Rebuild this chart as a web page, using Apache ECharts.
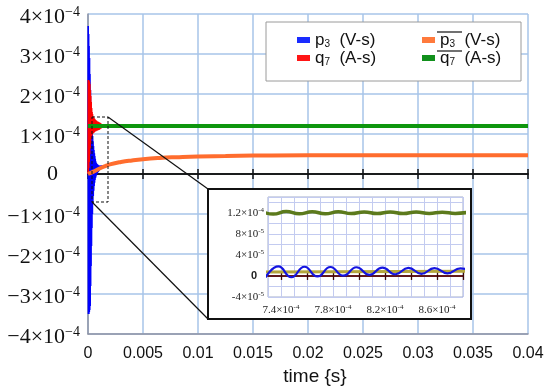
<!DOCTYPE html>
<html>
<head>
<meta charset="utf-8">
<script src="https://cdn.jsdelivr.net/npm/echarts@6.0.0/dist/echarts.min.js"></script>
<style>html,body{margin:0;padding:0;background:#fff;}#c{width:550px;height:391px;}</style>
</head>
<body>
<div id="c"></div>
<script>
// ---- main chart data: time in s, values in units of 1e-4 ----
const p3 = [[0,0],[0.00002,3.7],[0.00004,-3.5],[0.00006,3.5],[0.00008,-3.5],[0.0001,3.2],[0.00012,-3.45],[0.00014,2.9],[0.00016,-3.4],[0.00018,2.5],[0.0002,-3.3],[0.00022,2.1],[0.00024,-2.8],[0.00026,1.8],[0.00028,-2.3],[0.0003,1.55],[0.00032,-1.8],[0.00034,1.3],[0.00036,-1.35],[0.00038,1.1],[0.0004,-1.0],[0.00042,0.95],[0.00044,-0.75],[0.00046,0.82],[0.00048,-0.55],[0.0005,0.7],[0.00052,-0.42],[0.00054,0.6],[0.00056,-0.3],[0.00058,0.52],[0.0006,-0.22],[0.00062,0.45],[0.00064,-0.15],[0.00066,0.38],[0.00068,-0.1],[0.0007,0.32],[0.00072,-0.06],[0.00074,0.28],[0.00076,-0.03],[0.00078,0.26],[0.0008,0.0],[0.00082,0.25],[0.00084,0.02],[0.00086,0.24],[0.00088,0.04],[0.0009,0.23],[0.00092,0.05],[0.00094,0.22],[0.00096,0.07],[0.00098,0.22],[0.001,0.08],[0.00102,0.21],[0.00104,0.1],[0.00106,0.21],[0.00108,0.12],[0.0011,0.2],[0.00112,0.14],[0.00114,0.2],[0.00116,0.16],[0.0012,0.18],[0.0015,0.19],[0.002,0.24],[0.003,0.3],[0.005,0.37],[0.01,0.44],[0.02,0.47],[0.04,0.47]];
const q7 = [[0,0],[0.00002,2.35],[0.00004,0.05],[0.00006,2.35],[0.00008,0.15],[0.0001,2.33],[0.00012,0.3],[0.00014,2.3],[0.00016,0.5],[0.00018,2.25],[0.0002,0.65],[0.00022,2.1],[0.00024,0.78],[0.00026,1.95],[0.00028,0.88],[0.0003,1.8],[0.00032,0.93],[0.00034,1.65],[0.00036,0.97],[0.00038,1.55],[0.0004,1.0],[0.00042,1.5],[0.00044,1.01],[0.00046,1.45],[0.00048,1.02],[0.0005,1.42],[0.00052,1.03],[0.00054,1.4],[0.00056,1.04],[0.00058,1.39],[0.0006,1.05],[0.00062,1.37],[0.00064,1.06],[0.00066,1.36],[0.00068,1.07],[0.0007,1.35],[0.00072,1.07],[0.00074,1.34],[0.00076,1.08],[0.00078,1.33],[0.0008,1.08],[0.00082,1.32],[0.00084,1.09],[0.00086,1.31],[0.00088,1.09],[0.0009,1.31],[0.00092,1.1],[0.00094,1.3],[0.00096,1.1],[0.00098,1.3],[0.001,1.1],[0.00102,1.29],[0.00104,1.11],[0.00106,1.28],[0.00108,1.12],[0.0011,1.28],[0.00112,1.13],[0.00114,1.27],[0.00116,1.14],[0.00118,1.26],[0.0012,1.14],[0.00122,1.25],[0.00124,1.15],[0.00126,1.24],[0.00128,1.16],[0.0013,1.23],[0.00132,1.17],[0.00134,1.22],[0.00136,1.18],[0.0014,1.2],[0.04,1.2]];
const p3bar = [[0,0],[0.0005,0.06],[0.001,0.13],[0.0015,0.19],[0.002,0.24],[0.003,0.3],[0.004,0.34],[0.005,0.37],[0.0065,0.4],[0.008,0.42],[0.01,0.44],[0.0125,0.45],[0.015,0.46],[0.02,0.47],[0.025,0.47],[0.03,0.47],[0.04,0.47]];
const q7bar = [[0,1.2],[0.04,1.2]];
const mainXTicks = [0,0.005,0.01,0.015,0.02,0.025,0.03,0.035,0.04];
const mainYTicks = [-4,-3,-2,-1,0,1,2,3,4];

// ---- inset data: time in units of 1e-4 s, values in units of 1e-5 ----
const insetP3 = [[7.28,-0.3],[7.38,1.8],[7.48,-0.25],[7.58,1.75],[7.68,-0.1],[7.78,1.7],[7.88,0.05],[7.98,1.65],[8.08,0.2],[8.18,1.6],[8.28,0.3],[8.38,1.55],[8.48,0.4],[8.58,1.5],[8.68,0.5],[8.78,1.45],[8.88,0.55]];
const insetP3bar = [[7.28,0.75],[8.88,0.9]];
const insetQ7 = [[7.28,12.0],[7.34,11.75],[7.44,12.25],[7.54,11.8],[7.64,12.2],[7.74,11.8],[7.84,12.2],[7.94,11.85],[8.04,12.15],[8.14,11.85],[8.24,12.15],[8.34,11.85],[8.44,12.15],[8.54,11.88],[8.64,12.12],[8.74,11.88],[8.84,12.1]];
const insetXLabels = [7.4,7.8,8.2,8.6];
const insetXTicks = [7.4,7.6,7.8,8.0,8.2,8.4,8.6,8.8];
const insetYLabels = [-4,0,4,8,12];

const SERIF = '"Liberation Serif", "DejaVu Serif", serif';
const SANS = '"Liberation Sans", Arial, sans-serif';

function mainYFmt(v){
  const n = Math.round(v);
  if (n === 0) return '{z|0}';
  return '{m|' + (n < 0 ? '\u2212' : '') + Math.abs(n) + '\u00d710}{s|\u22124}';
}
function insetYFmt(v){
  const n = Math.round(v);
  if (n === 0) return '{z|0}';
  if (n === 12) return '{m|1.2\u00d710}{s|-4}';
  return '{m|' + (n < 0 ? '-' : '') + Math.abs(n) + '\u00d710}{s|-5}';
}
function insetXFmt(v){
  return '{m|' + v.toFixed(1) + '\u00d710}{s|-4}';
}

const chart = echarts.init(document.getElementById('c'), null, {renderer:'canvas'});
const gridBlue = '#a7c5e8';
const legendRich = {
  m:{fontFamily:SANS, fontSize:17, lineHeight:18, color:'#111', verticalAlign:'bottom'},
  s:{fontFamily:SANS, fontSize:10, lineHeight:12, color:'#111', verticalAlign:'bottom'}
};
function legendFmt(name){
  if (name === 'p3' || name === 'p3bar') return '{m|p}{s|3}{m|  (V-s)}';
  return '{m|q}{s|7}{m|  (A-s)}';
}

chart.setOption({
  animation:false,
  backgroundColor:'#fff',
  grid:[
    {left:88, top:14, width:440, height:325, show:false},
    {left:268, top:197, width:195, height:100, show:true, z:2, backgroundColor:'#fff', borderColor:'#a4aecb', borderWidth:1}
  ],
  legend:[
    {data:['p3','q7'], orient:'vertical', left:292, top:27, padding:5, itemWidth:13, itemHeight:6, itemGap:1, icon:'rect',
     formatter:legendFmt, textStyle:{rich:legendRich, fontFamily:SANS, fontSize:17}, selectedMode:false, z:6},
    {data:['p3bar','q7bar'], orient:'vertical', left:417, top:27, padding:5, itemWidth:13, itemHeight:6, itemGap:1, icon:'rect',
     formatter:legendFmt, textStyle:{rich:legendRich, fontFamily:SANS, fontSize:17}, selectedMode:false, z:6}
  ],
  xAxis:[
    {gridIndex:0, type:'value', min:0, max:0.04, interval:0.005,
     axisLine:{onZero:false, show:true, lineStyle:{color:'#8f93a3', width:1.5}},
     axisTick:{show:false},
     axisLabel:{customValues:mainXTicks, margin:12, fontFamily:SANS, fontSize:16, color:'#111',
       formatter:function(v){return parseFloat(v.toFixed(3)).toString();}},
     splitLine:{show:true, lineStyle:{color:gridBlue, width:1.5}},
     name:'time {s}', nameLocation:'middle', nameGap:33,
     nameTextStyle:{fontFamily:SANS, fontSize:19, color:'#111', padding:[0,0,0,14]}},
    {gridIndex:0, type:'value', min:0, max:0.04, interval:0.005, position:'bottom',
     axisLine:{show:true, onZero:true, onZeroAxisIndex:0, lineStyle:{color:'#111', width:1.5}},
     axisTick:{show:true, inside:false, length:5, lineStyle:{color:'#111', width:1.5}},
     axisLabel:{show:false}, splitLine:{show:false}},
    {gridIndex:0, type:'value', min:0, max:0.04, interval:0.005, position:'bottom',
     axisLine:{show:true, onZero:true, onZeroAxisIndex:0, lineStyle:{color:'#111', width:1.5}},
     axisTick:{show:true, inside:true, length:5, lineStyle:{color:'#111', width:1.5}},
     axisLabel:{show:false}, splitLine:{show:false}},
    {gridIndex:1, type:'value', min:7.3, max:8.8, interval:0.1, z:3,
     axisLine:{show:false, onZero:false}, axisTick:{show:false},
     axisLabel:{customValues:insetXLabels, formatter:insetXFmt, margin:7, fontFamily:SERIF,
       rich:{m:{fontFamily:SERIF, fontSize:11, lineHeight:12, color:'#222'}, s:{fontFamily:SERIF, fontSize:7, lineHeight:8, verticalAlign:'top', color:'#222'}}},
     splitLine:{show:true, lineStyle:{color:'#c3cbf0', width:1}}},
    {gridIndex:1, type:'value', min:7.3, max:8.8, position:'bottom', z:3,
     axisLine:{show:true, onZero:true, onZeroAxisIndex:1, lineStyle:{color:'#5a0c0c', width:1.5}},
     axisTick:{show:true, inside:false, length:4, customValues:insetXTicks, lineStyle:{color:'#3a0808', width:1.3}},
     axisLabel:{show:false}, splitLine:{show:false}},
    {gridIndex:1, type:'value', min:7.3, max:8.8, position:'bottom', z:3,
     axisLine:{show:true, onZero:true, onZeroAxisIndex:1, lineStyle:{color:'#5a0c0c', width:1.5}},
     axisTick:{show:true, inside:true, length:4, customValues:insetXTicks, lineStyle:{color:'#3a0808', width:1.3}},
     axisLabel:{show:false}, splitLine:{show:false}}
  ],
  yAxis:[
    {gridIndex:0, type:'value', min:-4, max:4, interval:1,
     axisLine:{show:true, onZero:false, lineStyle:{color:'#8f93a3', width:1.5}},
     axisTick:{show:false},
     axisLabel:{customValues:mainYTicks, formatter:mainYFmt, margin:8, padding:[6,0,0,0], fontFamily:SERIF, fontSize:22,
       rich:{m:{fontFamily:SERIF, fontSize:22, lineHeight:24, color:'#111'},
             s:{fontFamily:SERIF, fontSize:14, lineHeight:15, verticalAlign:'top', color:'#111'},
             z:{fontFamily:SERIF, fontSize:22, lineHeight:24, color:'#111', padding:[0,22,6,0]}}},
     splitLine:{show:true, lineStyle:{color:gridBlue, width:1.5}}},
    {gridIndex:1, type:'value', min:-4, max:15, interval:2, z:3,
     axisLine:{show:false, onZero:false}, axisTick:{show:false},
     axisLabel:{customValues:insetYLabels, formatter:insetYFmt, margin:4, fontFamily:SERIF,
       rich:{m:{fontFamily:SERIF, fontSize:11, lineHeight:12, color:'#222'},
             s:{fontFamily:SERIF, fontSize:7, lineHeight:8, verticalAlign:'top', color:'#222'},
             z:{fontFamily:SANS, fontSize:11, fontWeight:'bold', lineHeight:12, color:'#222', padding:[0,7,0,0]}}},
     splitLine:{show:true, lineStyle:{color:'#c3cbf0', width:1}}}
  ],
  series:[
    {name:'p3', type:'line', xAxisIndex:0, yAxisIndex:0, data:p3, symbol:'none', z:2,
     lineStyle:{color:'#0000ff', width:1.6}, itemStyle:{color:'#1a2cff'}},
    {name:'q7', type:'line', xAxisIndex:0, yAxisIndex:0, data:q7, symbol:'none', z:3,
     lineStyle:{color:'#ff0000', width:1.4}, itemStyle:{color:'#ff1515'}},
    {name:'p3bar', type:'line', xAxisIndex:0, yAxisIndex:0, data:p3bar, symbol:'none', smooth:true, z:4,
     lineStyle:{color:'#ff6d2e', width:4}, itemStyle:{color:'#ff7a3c'}},
    {name:'q7bar', type:'line', xAxisIndex:0, yAxisIndex:0, data:q7bar, symbol:'none', z:5,
     lineStyle:{color:'#0e960e', width:4}, itemStyle:{color:'#11901c'}},
    {name:'inset_q7', type:'line', xAxisIndex:3, yAxisIndex:1, data:insetQ7, symbol:'none', smooth:true, z:6,
     lineStyle:{color:'#5c7a1c', width:3.5}},
    {name:'inset_p3bar', type:'line', xAxisIndex:3, yAxisIndex:1, data:insetP3bar, symbol:'none', z:6,
     lineStyle:{color:'#b4a63c', width:3}},
    {name:'inset_p3', type:'line', xAxisIndex:3, yAxisIndex:1, data:insetP3, symbol:'none', smooth:true, z:7,
     lineStyle:{color:'#1414e0', width:2.2}}
  ],
  graphic:[
    {type:'rect', z:1, shape:{x:266, y:22, width:255, height:59}, style:{fill:'#fff', stroke:'#9a9a9a', lineWidth:1}},
    {type:'rect', z:1, shape:{x:208, y:189, width:263, height:130}, style:{fill:'#fff', stroke:'#111', lineWidth:2}},
    {type:'rect', z:10, shape:{x:92, y:117, width:16, height:85}, style:{fill:'none', stroke:'#111', lineWidth:1, lineDash:[3,2]}},
    {type:'line', z:10, shape:{x1:108, y1:117, x2:208, y2:189}, style:{stroke:'#111', lineWidth:1.2}},
    {type:'line', z:10, shape:{x1:92, y1:202, x2:208, y2:319}, style:{stroke:'#111', lineWidth:1.2}},
    {type:'line', z:10, shape:{x1:437, y1:32, x2:462, y2:32}, style:{stroke:'#111', lineWidth:1.2}},
    {type:'line', z:10, shape:{x1:437, y1:51, x2:462, y2:51}, style:{stroke:'#111', lineWidth:1.2}}
  ]
});
</script>
</body>
</html>
